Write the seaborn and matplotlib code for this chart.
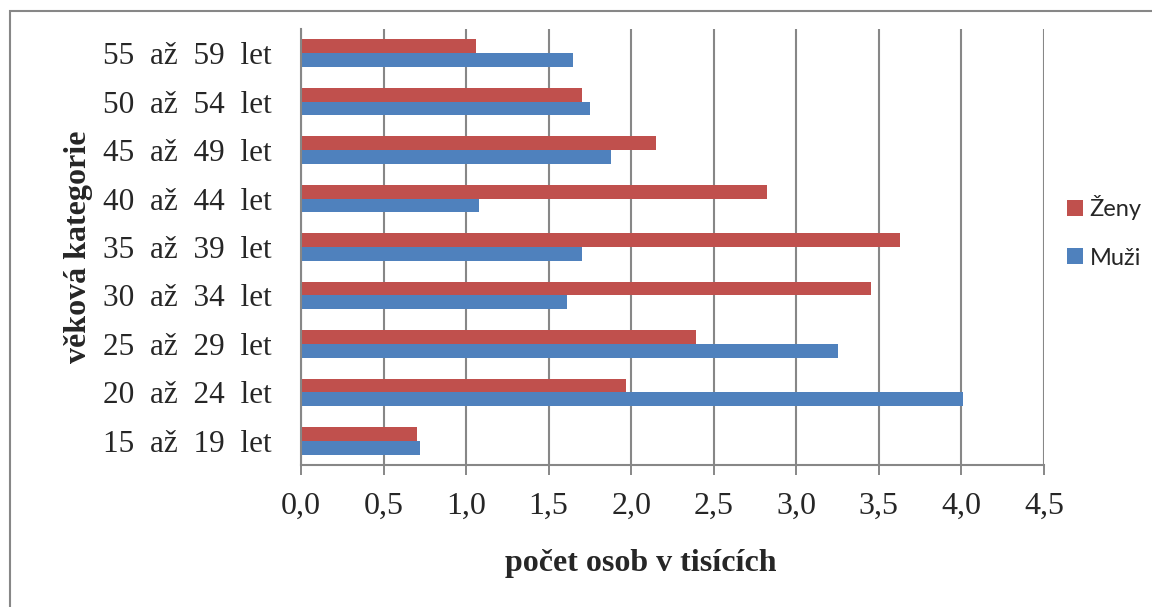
import matplotlib
matplotlib.use("Agg")
import matplotlib.pyplot as plt
from matplotlib.patches import Patch, Rectangle
import seaborn as sns
import pandas as pd

# Age groups, listed top to bottom as drawn
kategorie = ["55  až  59  let", "50  až  54  let", "45  až  49  let", "40  až  44  let",
             "35  až  39  let", "30  až  34  let", "25  až  29  let", "20  až  24  let",
             "15  až  19  let"]
zeny = [1.06, 1.70, 2.15, 2.82, 3.63, 3.45, 2.39, 1.97, 0.70]
muzi = [1.65, 1.75, 1.88, 1.08, 1.70, 1.61, 3.25, 4.01, 0.72]
skupiny = ["Ženy", "Muži"]
barvy = {"Ženy": "#C0504D", "Muži": "#4F81BD"}
x_ticks = [0.0, 0.5, 1.0, 1.5, 2.0, 2.5, 3.0, 3.5, 4.0, 4.5]

df = pd.DataFrame({
    "kategorie": kategorie * 2,
    "pohlavi": ["Ženy"] * len(kategorie) + ["Muži"] * len(kategorie),
    "pocet": zeny + muzi,
})

sns.set_style("white")
plt.rcParams["font.family"] = ["Liberation Serif", "DejaVu Serif"]

fig = plt.figure(figsize=(11.52, 6.07), dpi=100)
ax = fig.add_axes([301 / 1152, 1 - 465 / 607, 743 / 1152, 436 / 607])

grid_col = "#878787"
sns.barplot(data=df, x="pocet", y="kategorie", hue="pohlavi", order=kategorie,
            hue_order=skupiny, palette=barvy, orient="h", width=0.567, gap=0,
            linewidth=0, saturation=1, ax=ax, legend=False, zorder=3)

ax.set_xlim(0, 4.5)
ax.set_ylim(len(kategorie) - 0.5, -0.5)
ax.set_xticks(x_ticks)
ax.set_xticklabels([f"{v:.1f}".replace(".", ",") for v in x_ticks], fontsize=23)
ax.tick_params(axis="x", direction="out", length=7.5, width=1.4, color=grid_col,
               pad=12, bottom=True)
ax.tick_params(axis="y", length=0, pad=21, labelsize=22.5)
ax.grid(axis="x", color=grid_col, linewidth=1.5, zorder=0)
ax.set_axisbelow(True)
for s in ["top", "right"]:
    ax.spines[s].set_visible(False)
for s in ["left", "bottom"]:
    ax.spines[s].set_color(grid_col)
    ax.spines[s].set_linewidth(1.5)
    ax.spines[s].set_zorder(4)

ax.set_xlabel("počet osob v tisících", fontsize=23, fontweight="bold")
ax.set_ylabel("věková kategorie", fontsize=23, fontweight="bold")
ax.xaxis.set_label_coords(0.457, -0.193)
ax.yaxis.set_label_coords(-0.280, 0.5)

handles = [Patch(facecolor=barvy[g], edgecolor="none", label=g) for g in skupiny]
fig.legend(handles=handles, loc="center left", bbox_to_anchor=(1046 / 1152, 1 - 232 / 607),
           frameon=False, prop={"family": "Lato", "size": 17},
           handlelength=0.65, handleheight=0.65, handletextpad=0.3, labelspacing=1.15)

# Chart frame
fig.add_artist(Rectangle((10 / 1152, -0.2), 1.2, 1.2 - 11 / 607, transform=fig.transFigure,
                         fill=False, edgecolor=grid_col, linewidth=1.5, clip_on=False))

fig.savefig("out.png", dpi=100, facecolor="white")
